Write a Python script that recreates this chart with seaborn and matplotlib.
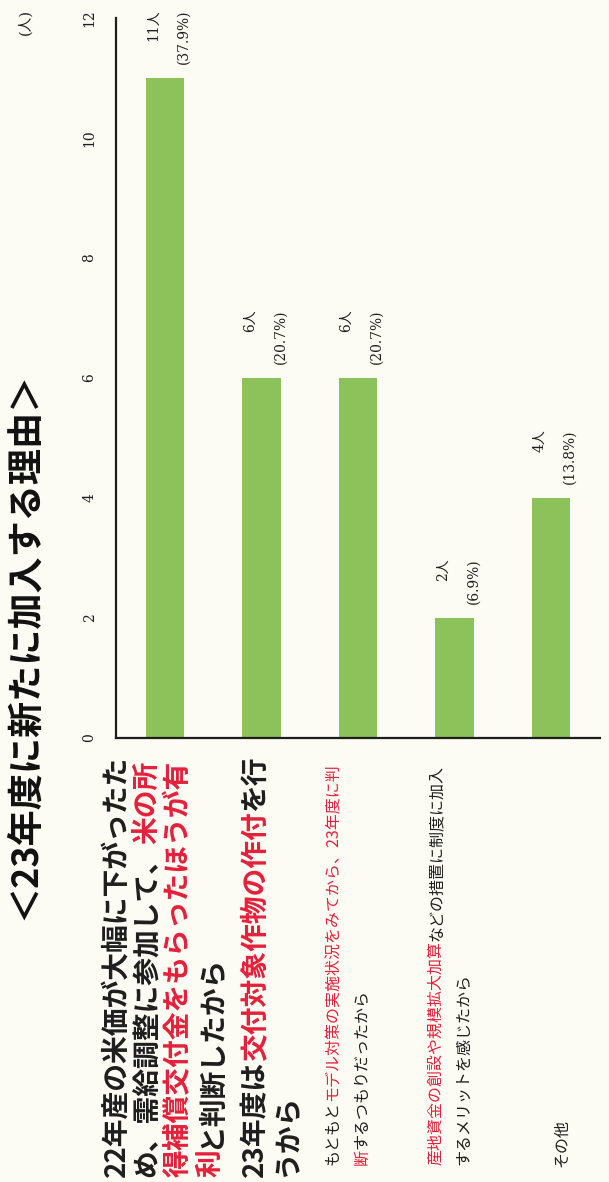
import matplotlib
matplotlib.use("Agg")
import matplotlib.pyplot as plt
from matplotlib.font_manager import FontProperties
import seaborn as sns
import pandas as pd

# ---- data -------------------------------------------------------------
reasons = ["米価下落・所得補償", "交付対象作物の作付", "モデル対策の様子見", "産地資金・規模拡大加算", "その他"]
counts = [11, 6, 6, 2, 4]
respondents = 29
value_ticks = [0, 2, 4, 6, 8, 10, 12]
unit_label = "(人)"
title_text = "＜23年度に新たに加入する理由＞"

# reason labels: one list per printed line, made of (text, emphasised) runs
reason1_lines = [
    [("22年産の米価が大幅に下がったた", False)],
    [("め、需給調整に参加して、", False), ("米の所", True)],
    [("得補償交付金をもらったほうが有", True)],
    [("利", True), ("と判断したから", False)],
]
reason2_lines = [
    [("23年度は", False), ("交付対象作物の作付", True), ("を行", False)],
    [("うから", False)],
]
reason3_lines = [
    [("もともと", False), ("モデル対策の実施状況をみてから、23年度に判", True)],
    [("断", True), ("するつもりだったから", False)],
]
reason4_lines = [
    [("産地資金の創設や規模拡大加算", True), ("などの措置に制度に加入", False)],
    [("するメリットを感じたから", False)],
]
reason5_lines = [
    [("その他", False)],
]

# ---- style ------------------------------------------------------------
PAPER = "#FCFCF5"
BAR = "#8DC25A"
INK = "#1E1E1E"
RED = "#E5203A"

sns.set_style("white")
plt.rcParams["font.family"] = ["Noto Sans CJK JP", "DejaVu Sans"]
NUM_FAMILY = ["DejaVu Serif", "Noto Sans CJK JP"]

W, H = 609, 1182
fig = plt.figure(figsize=(W / 100, H / 100), dpi=100, facecolor=PAPER)

# vertical bars, value axis along the left edge
ax_left, ax_right, ax_top, ax_bottom = 116, 600, 18, 738
ax = fig.add_axes([ax_left / W, 1 - ax_bottom / H,
                   (ax_right - ax_left) / W, (ax_bottom - ax_top) / H])
ax.set_facecolor("none")

df = pd.DataFrame({"reason": reasons, "count": counts})
sns.barplot(data=df, x="reason", y="count", color=BAR, saturation=1,
            width=0.4, linewidth=0, ax=ax)

ax.set_xlim(-0.51, len(reasons) - 0.49)
ax.set_ylim(value_ticks[0], value_ticks[-1])
ax.set_yticks(value_ticks)
ax.set_xlabel("")
ax.set_ylabel("")
sns.despine(ax=ax)
for side in ("left", "bottom"):
    ax.spines[side].set_color(INK)
    ax.spines[side].set_linewidth(1.6)
ax.tick_params(axis="x", length=0, labelbottom=False)
ax.tick_params(axis="y", direction="in", length=5, width=1.2, color=INK,
               pad=19, labelsize=10, labelcolor=INK)
for lbl in ax.get_yticklabels():
    lbl.set_rotation(90)
    lbl.set_va("center")
    lbl.set_ha("center")
    lbl.set_family(NUM_FAMILY)

# count and share above every bar
for i, c in enumerate(counts):
    share = c / respondents * 100
    ax.annotate(f"{c}人\n({share:.1f}%)", xy=(i, c), xytext=(2.5, 10),
                textcoords="offset points", rotation=90, ha="center",
                va="bottom", multialignment="right", linespacing=2.5,
                fontsize=10, family=NUM_FAMILY, color=INK)

# title and unit, both running bottom-to-top
fig.text(24 / W, 1 - 646 / H, title_text, rotation=90, ha="center",
         va="center", fontsize=26, weight="bold", color="#111111")
fig.text(25 / W, 1 - 22 / H, unit_label, rotation=90, ha="center",
         va="center", fontsize=10.5, family=NUM_FAMILY, color=INK)

# ---- reason labels below the baseline --------------------------------
renderer = fig.canvas.get_renderer()


def advance(s, fp):
    """Pen advance of a string, in pixels."""
    if not s:
        return 0.0
    w_all, _, _ = renderer.get_text_width_height_descent(s + "口", fp, ismath=False)
    w_ref, _, _ = renderer.get_text_width_height_descent("口", fp, ismath=False)
    return w_all - w_ref


def draw_reason(lines, x0, dx, y_start, fp):
    for j, line in enumerate(lines):
        x = x0 + j * dx
        prefix = ""
        for text, hot in line:
            off = advance(prefix, fp)
            fig.text(x / W, (H - y_start + off) / H, text, rotation=90,
                     rotation_mode="anchor", ha="left", va="center",
                     fontproperties=fp, color=RED if hot else INK)
            prefix += text


fp_large = FontProperties(family="Noto Sans CJK JP", weight="bold", size=20)
fp_small = FontProperties(family="Noto Sans CJK JP", size=11.5)

draw_reason(reason1_lines, 116, 31.5, 1177, fp_large)
draw_reason(reason2_lines, 255, 31.5, 1177, fp_large)
draw_reason(reason3_lines, 333, 29, 1165, fp_small)
draw_reason(reason4_lines, 436, 28, 1165, fp_small)
draw_reason(reason5_lines, 562, 28, 1167, fp_small)

fig.savefig("out.png", dpi=100, facecolor=PAPER)
